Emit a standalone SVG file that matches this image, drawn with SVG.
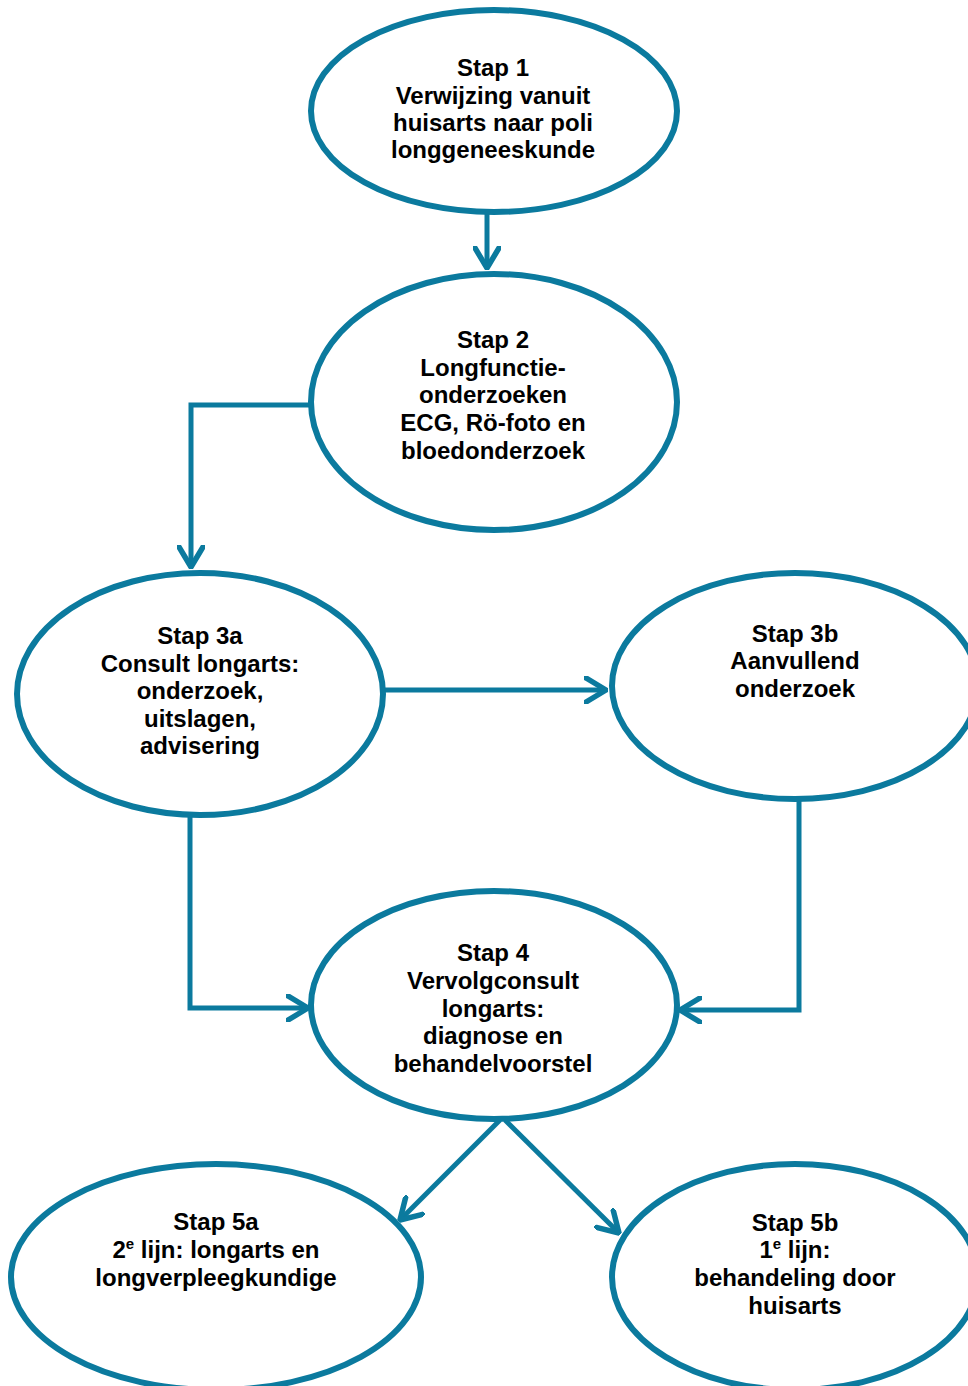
<svg xmlns="http://www.w3.org/2000/svg" width="968" height="1386" viewBox="0 0 968 1386">
<style>
.n{fill:#fff;stroke:#0b7a9e;stroke-width:6}
.c{fill:none;stroke:#0b7a9e;stroke-width:5;stroke-linejoin:miter}
text{font-family:"Liberation Sans",Arial,sans-serif;font-weight:bold;font-size:24px;fill:#000;text-anchor:middle}
</style>
<defs>
<marker id="ah" markerUnits="userSpaceOnUse" viewBox="0 0 24 28" refX="22" refY="14" markerWidth="24" markerHeight="28" orient="auto">
<path d="M2,2 L22,14 L2,26" fill="none" stroke="#0b7a9e" stroke-width="5.5" stroke-linecap="round" stroke-linejoin="round"/>
</marker>
</defs>
<rect width="968" height="1386" fill="#fff"/>
<g id="connectors">
<path class="c" d="M487,213 V268" marker-end="url(#ah)"/>
<path class="c" d="M311,405 H191 V567" marker-end="url(#ah)"/>
<path class="c" d="M383,690 H606" marker-end="url(#ah)"/>
<path class="c" d="M190,815 V1008 H308" marker-end="url(#ah)"/>
<path class="c" d="M799,800 V1010 H680" marker-end="url(#ah)"/>
<path class="c" d="M500,1120 L400,1220" marker-end="url(#ah)"/>
<path class="c" d="M505,1120 L619,1233" marker-end="url(#ah)"/>
</g>
<g id="n1">
<ellipse class="n" cx="494" cy="111" rx="183" ry="101"/>
<text x="493" y="76">Stap 1</text>
<text x="493" y="104">Verwijzing vanuit</text>
<text x="493" y="131">huisarts naar poli</text>
<text x="493" y="158">longgeneeskunde</text>
</g>
<g id="n2">
<ellipse class="n" cx="494" cy="402" rx="183" ry="128"/>
<text x="493" y="348">Stap 2</text>
<text x="493" y="376">Longfunctie-</text>
<text x="493" y="403">onderzoeken</text>
<text x="493" y="431">ECG, Rö-foto en</text>
<text x="493" y="459">bloedonderzoek</text>
</g>
<g id="n3a">
<ellipse class="n" cx="200" cy="694" rx="183" ry="121"/>
<text x="200" y="644">Stap 3a</text>
<text x="200" y="672">Consult longarts:</text>
<text x="200" y="699">onderzoek,</text>
<text x="200" y="727">uitslagen,</text>
<text x="200" y="754">advisering</text>
</g>
<g id="n3b">
<ellipse class="n" cx="795" cy="686" rx="183" ry="113"/>
<text x="795" y="642">Stap 3b</text>
<text x="795" y="669">Aanvullend</text>
<text x="795" y="697">onderzoek</text>
</g>
<g id="n4">
<ellipse class="n" cx="494" cy="1005" rx="183" ry="114"/>
<text x="493" y="961">Stap 4</text>
<text x="493" y="989">Vervolgconsult</text>
<text x="493" y="1017">longarts:</text>
<text x="493" y="1044">diagnose en</text>
<text x="493" y="1072">behandelvoorstel</text>
</g>
<g id="n5a">
<ellipse class="n" cx="216" cy="1277" rx="205" ry="113"/>
<text x="216" y="1230">Stap 5a</text>
<text x="216" y="1258">2<tspan font-size="15" dy="-9">e</tspan><tspan dy="9"> lijn: longarts en</tspan></text>
<text x="216" y="1286">longverpleegkundige</text>
</g>
<g id="n5b">
<ellipse class="n" cx="795" cy="1277" rx="183" ry="113"/>
<text x="795" y="1231">Stap 5b</text>
<text x="795" y="1258">1<tspan font-size="15" dy="-9">e</tspan><tspan dy="9"> lijn:</tspan></text>
<text x="795" y="1286">behandeling door</text>
<text x="795" y="1314">huisarts</text>
</g>
</svg>
